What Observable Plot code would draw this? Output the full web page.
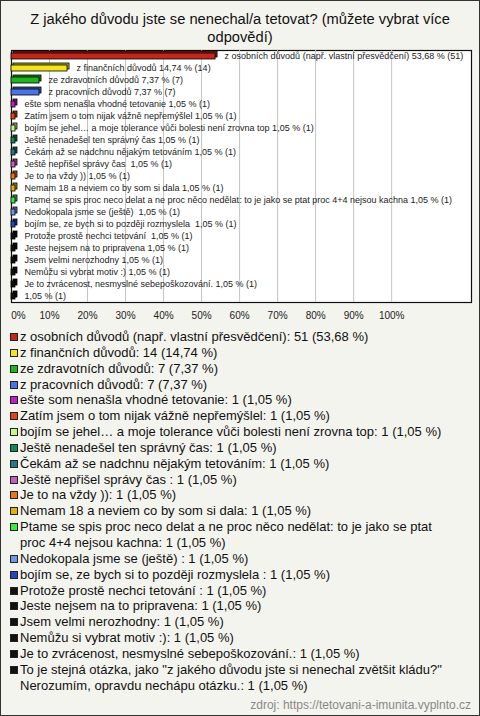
<!DOCTYPE html>
<html><head><meta charset="utf-8">
<script src="https://cdn.jsdelivr.net/npm/d3@7"></script>
<script src="https://cdn.jsdelivr.net/npm/@observablehq/plot@0.6"></script>
<style>
body{margin:0;font-family:"Liberation Sans",Arial,sans-serif;}
#card{width:478px;height:714px;border:1px solid #333;background:#f4f4ee;position:relative;overflow:hidden}
#title{height:44px;box-sizing:border-box;padding-top:9px;text-align:center;font-size:14.7px;line-height:18px;color:#111}
#chart svg{display:block}
#legend{padding-left:19px;width:432px;font-size:13px;line-height:15.85px;color:#111}
.item{position:relative;white-space:pre-line}
.sw{position:absolute;left:-10px;top:4px;width:6px;height:6px;border:1px solid #222}
#src{position:absolute;right:8px;bottom:3px;font-size:12px;color:#888}
</style>
</head><body>
<div id="card">
  <div id="title">Z jakého důvodu jste se nenechal/a tetovat? (můžete vybrat více<br>odpovědí)</div>
  <div id="chart"></div>
  <div id="legend"></div>
  <div id="src">zdroj: https://tetovani-a-imunita.vyplnto.cz</div>
</div>
<script>
const names = [
  "z osobních důvodů (např. vlastní přesvědčení)",
  "z finančních důvodů",
  "ze zdravotních důvodů",
  "z pracovních důvodů",
  "ešte som nenašla vhodné tetovanie",
  "Zatím jsem o tom nijak vážně nepřemýšlel",
  "bojím se jehel… a moje tolerance vůči bolesti není zrovna top",
  "Ještě nenadešel ten správný čas",
  "Čekám až se nadchnu nějakým tetováním",
  "Ještě nepřišel správy čas ",
  "Je to na vždy ))",
  "Nemam 18 a neviem co by som si dala",
  "Ptame se spis proc neco delat a ne proc něco nedělat: to je jako se ptat proc 4+4 nejsou kachna",
  "Nedokopala jsme se (ještě) ",
  "bojím se, ze bych si to později rozmyslela ",
  "Protože prostě nechci tetování ",
  "Jeste nejsem na to pripravena",
  "Jsem velmi nerozhodny",
  "Nemůžu si vybrat motiv :)",
  "Je to zvrácenost, nesmyslné sebepoškozování.",
  "To je stejná otázka, jako \"z jakého důvodu jste si nenechal zvětšit kládu?\"\nNerozumím, opravdu nechápu otázku."
];
const counts = [51,14,7,7,1,1,1,1,1,1,1,1,1,1,1,1,1,1,1,1,1];
const percents = [53.68,14.74,7.37,7.37,1.05,1.05,1.05,1.05,1.05,1.05,1.05,1.05,1.05,1.05,1.05,1.05,1.05,1.05,1.05,1.05,1.05];
const colors = ["#c4261a","#f2e41e","#1fb51f","#4a74e6","#c21ec8","#e2441a","#c6f58a","#118a58","#23788a","#c65ec4","#e8761a","#e2b20c","#3fe83f","#6e98e6","#2448b8","#111111","#111111","#111111","#111111","#111111","#111111"];
const xTicks = [0,10,20,30,40,50,60,70,80,90,100];

const fmt = v => d3.format(".2f")(v).replace(".", ",");
const data = names.map((n, i) => ({
  key: String(i), name: n, count: counts[i], pct: percents[i], color: colors[i],
  side: d3.color(colors[i]).darker(0.9).formatHex(),
  chartLabel: (n.includes("\n") ? "" : n + " ") + fmt(percents[i]) + " % (" + counts[i] + ")"
}));

const plot = Plot.plot({
  width: 478, height: 284,
  marginLeft: 10, marginRight: 8, marginTop: 5, marginBottom: 27,
  x: {domain: [0, 121], axis: null, label: null},
  y: {domain: data.map(d => d.key), padding: 0, axis: null, label: null},
  color: {type: "identity"},
  style: {fontFamily: "Liberation Sans, Arial, sans-serif", background: "transparent", overflow: "visible"},
  marks: [
    Plot.frame({fill: "white", stroke: "#111", strokeWidth: 1.2}),
    Plot.ruleX(xTicks.filter(t => t > 0), {stroke: "#c4c4c4"}),
    Plot.barX(data, {x: "pct", y: "key", fill: "side", stroke: "#000", strokeWidth: 0.8, insetTop: 3, insetBottom: 3, dx: 2, dy: -2}),
    Plot.barX(data, {x: "pct", y: "key", fill: "color", stroke: "#000", strokeWidth: 0.8, insetTop: 3, insetBottom: 3}),
    Plot.text(data, {x: "pct", y: "key", text: "chartLabel", dx: 9, textAnchor: "start", fontSize: 9, fill: "#222"}),
    Plot.axisX(xTicks.filter(t => t > 0), {tickSize: 0, tickPadding: 9, tickFormat: d => d + "%", fontSize: 10, fill: "#222", label: null}),
    Plot.axisX([0], {tickSize: 0, tickPadding: 9, tickFormat: d => d + "%", fontSize: 10, fill: "#222", dx: 7, label: null})
  ]
});
document.getElementById("chart").appendChild(plot);

const legend = d3.select("#legend");
data.forEach(d => {
  const it = legend.append("div").attr("class", "item");
  it.append("span").attr("class", "sw").style("background", d.color);
  it.append("span").text(d.name + ": " + d.count + " (" + fmt(d.pct) + " %)");
});
</script>
</body></html>
